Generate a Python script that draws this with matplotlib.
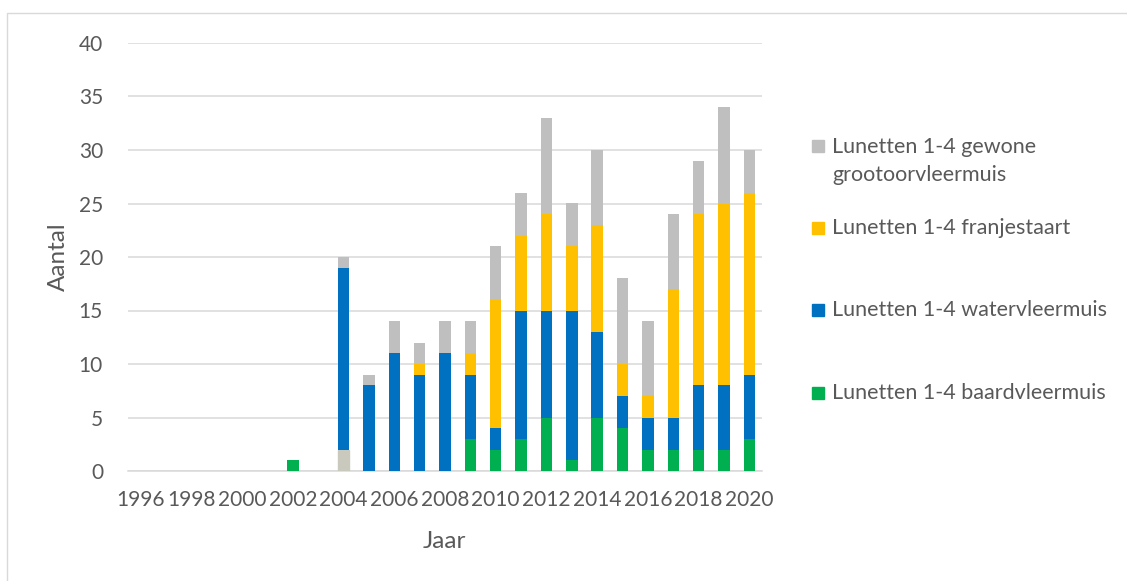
import numpy as np
import matplotlib
matplotlib.use("Agg")
import matplotlib.pyplot as plt
from matplotlib.patches import Rectangle

plt.rcParams['font.family'] = ['Lato', 'DejaVu Sans']

# ===== data =====
years = list(range(1996, 2021))
baard = [0, 0, 0, 0, 0, 0, 1, 0, 2, 0, 0, 0, 0, 3, 2, 3, 5, 1, 5, 4, 2, 2, 2, 2, 3]
water = [0, 0, 0, 0, 0, 0, 0, 0, 17, 8, 11, 9, 11, 6, 2, 12, 10, 14, 8, 3, 3, 3, 6, 6, 6]
franje = [0, 0, 0, 0, 0, 0, 0, 0, 0, 0, 0, 1, 0, 2, 12, 7, 9, 6, 10, 3, 2, 12, 16, 17, 17]
grootoor = [0, 0, 0, 0, 0, 0, 0, 0, 1, 1, 3, 2, 3, 3, 5, 4, 9, 4, 7, 8, 7, 7, 5, 9, 4]

labels = ['Lunetten 1-4 baardvleermuis', 'Lunetten 1-4 watervleermuis',
          'Lunetten 1-4 franjestaart', 'Lunetten 1-4 gewone\ngrootoorvleermuis']
series = [baard, water, franje, grootoor]
colors = ['#00B050', '#0070C0', '#FFC000', '#BFBFBF']
txt = '#595959'
grid = '#D9D9D9'

W, H = 1127, 581
fig = plt.figure(figsize=(W / 100, H / 100), dpi=100)
ax = fig.add_axes([128 / W, 1 - 471 / H, (762 - 128) / W, (471 - 43) / H])

x = np.arange(len(years))
bottom = np.zeros(len(years))
bar_sets = []
for vals, c in zip(series, colors):
    b = ax.bar(x, vals, width=0.45, bottom=bottom, color=c, zorder=3)
    bar_sets.append(b)
    bottom += np.array(vals)

# 2004 bottom segment has a different (pale) colour in the original
bar_sets[0][years.index(2004)].set_color('#C9C9BE')

ax.set_xlim(-0.5, len(years) - 0.5)
ax.set_ylim(0, 40)
ax.set_yticks(range(0, 41, 5))
ax.set_xticks(x[::2])
ax.set_xticklabels([str(y) for y in years[::2]])
ax.grid(axis='y', color=grid, linewidth=1.1, zorder=0)
for s in ['top', 'right', 'left']:
    ax.spines[s].set_visible(False)
ax.spines['bottom'].set_color(grid)
ax.spines['bottom'].set_linewidth(1.1)
ax.tick_params(length=0, labelsize=15, colors=txt)
ax.tick_params(axis='y', pad=18)
ax.tick_params(axis='x', pad=14)

fig.text(58 / W, 1 - 257 / H, 'Aantal', rotation=90, ha='center', va='center',
         fontsize=17.5, color=txt)
fig.text(444 / W, 1 - 541 / H, 'Jaar', ha='center', va='center',
         fontsize=17.5, color=txt)

# legend (drawn by hand, Excel style)
leg_y = [393, 310, 228, 146]
for lab, c, yy in zip(labels, colors, leg_y):
    fig.add_artist(Rectangle((812 / W, 1 - (yy + 6) / H), 12 / W, 12 / H,
                             transform=fig.transFigure, color=c))
    if '\n' in lab:
        fig.text(832 / W, 1 - (yy - 9) / H, lab, ha='left', va='top',
                 fontsize=15.5, color=txt, linespacing=1.5)
    else:
        fig.text(832 / W, 1 - yy / H, lab, ha='left', va='center',
                 fontsize=15.5, color=txt)

# outer chart border
fig.add_artist(Rectangle((7 / W, -0.05), 1.1, 1 - 13 / H + 0.05, transform=fig.transFigure,
                         fill=False, edgecolor=grid, linewidth=1))

fig.savefig('out.png', dpi=100)
